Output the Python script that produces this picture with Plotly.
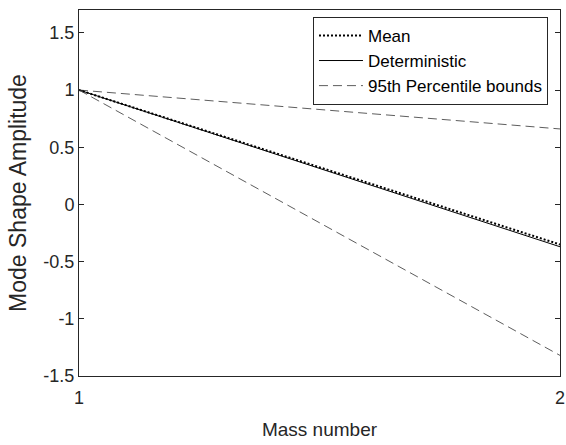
import plotly.graph_objects as go

mass_number = [1, 2]
mean_vals = [1.0, -0.35]
deterministic_vals = [1.0, -0.37]
upper_bound = [1.0, 0.66]
lower_bound = [1.0, -1.32]

y_ticks = [-1.5, -1, -0.5, 0, 0.5, 1, 1.5]
y_tick_labels = ["-1.5", "-1", "-0.5", "0", "0.5", "1", "1.5"]
x_ticks = [1, 2]
x_tick_labels = ["1", "2"]

axis_col = "#262626"
font_fam = "Liberation Sans, Arial, sans-serif"

fig = go.Figure()
fig.add_trace(go.Scatter(x=mass_number, y=mean_vals, mode="lines", name="Mean",
                         line=dict(color="black", width=2, dash="2px,2px")))
fig.add_trace(go.Scatter(x=mass_number, y=deterministic_vals, mode="lines", name="Deterministic",
                         line=dict(color="black", width=1)))
fig.add_trace(go.Scatter(x=mass_number, y=upper_bound, mode="lines", name="95th Percentile bounds",
                         line=dict(color="#333333", width=0.8, dash="9px,5px")))
fig.add_trace(go.Scatter(x=mass_number, y=lower_bound, mode="lines", name="lower",
                         showlegend=False,
                         line=dict(color="#333333", width=0.8, dash="9px,5px")))

fig.update_layout(
    width=566, height=445,
    margin=dict(l=79, r=6, t=10, b=69),
    paper_bgcolor="white", plot_bgcolor="white",
    font=dict(family=font_fam, color=axis_col, size=18),
    showlegend=True,
    legend=dict(x=0.975, xanchor="right", y=0.861, yanchor="middle",
                bordercolor=axis_col, borderwidth=1, bgcolor="white",
                font=dict(size=17, color="black"), tracegroupgap=0,
                itemwidth=44),
)
fig.update_xaxes(range=[1, 2], tickvals=x_ticks, ticktext=x_tick_labels,
                 ticks="inside", ticklen=5, tickcolor=axis_col, mirror="ticks",
                 showline=True, linecolor=axis_col, linewidth=1, showgrid=False,
                 zeroline=False, tickfont=dict(size=18), automargin=False,
                 ticklabelstandoff=5,
                 title=dict(text="Mass number", font=dict(size=19), standoff=16))
fig.update_yaxes(range=[-1.5, 1.7], tickvals=y_ticks, ticktext=y_tick_labels,
                 ticks="inside", ticklen=5, tickcolor=axis_col, mirror="ticks",
                 showline=True, linecolor=axis_col, linewidth=1, showgrid=False,
                 zeroline=False, tickfont=dict(size=18), automargin=False,
                 title=dict(text="Mode Shape Amplitude", font=dict(size=23), standoff=10))

fig.write_html("out.html", config={"displayModeBar": False},
               post_script="document.body.style.margin='0';document.body.style.overflow='hidden';")
